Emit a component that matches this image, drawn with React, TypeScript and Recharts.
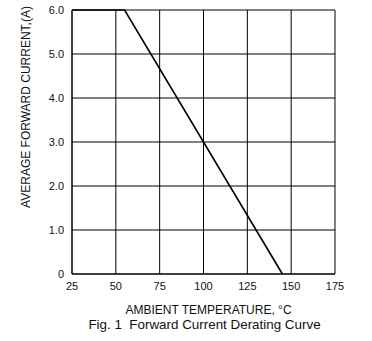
import { CartesianGrid, Label, Line, LineChart, XAxis, YAxis } from "recharts";

// derating curve
const temps = [25, 55, 145];
const currents = [6, 6, 0];

const xTicks = [25, 50, 75, 100, 125, 150, 175];
const yTicks = [0, 1, 2, 3, 4, 5, 6];
const yTickLabels = ["0", "1.0", "2.0", "3.0", "4.0", "5.0", "6.0"];

const FONT = '"Liberation Sans", Arial, sans-serif';
const INK = "#111";

const data = temps.map((t, i) => ({ temp: t, current: currents[i] }));

function XTitle(props: any) {
  const vb = props.viewBox;
  const cx = vb.x + vb.width / 2;
  return (
    <g fontFamily={FONT} fill={INK}>
      <text x={cx + 5} y={314} textAnchor="middle" fontSize={12}>
        AMBIENT TEMPERATURE, °C
      </text>
      <text x={cx + 1} y={329} textAnchor="middle" fontSize={13.4} style={{ whiteSpace: "pre" }}>
        {"Fig. 1  Forward Current Derating Curve"}
      </text>
    </g>
  );
}

export default function App() {
  return (
    <div style={{ position: "absolute", left: 0, top: 0, background: "#fff" }}>
      <LineChart
        width={372}
        height={341}
        data={data}
        margin={{ top: 10, right: 37, left: 0, bottom: 0 }}
        style={{ fontFamily: FONT }}
      >
        <CartesianGrid stroke="#000" strokeWidth={1} />
        <XAxis
          dataKey="temp"
          type="number"
          domain={[25, 175]}
          ticks={xTicks}
          interval={0}
          height={67}
          axisLine={{ stroke: "#000" }}
          tickLine={false}
          tick={{ fill: INK, fontSize: 11 }}
        >
          <Label content={<XTitle />} />
        </XAxis>
        <YAxis
          type="number"
          domain={[0, 6]}
          ticks={yTicks}
          interval={0}
          width={72}
          axisLine={{ stroke: "#000" }}
          tickLine={false}
          tick={{ fill: INK, fontSize: 11 }}
          tickFormatter={(v: number) => yTickLabels[yTicks.indexOf(v)]}
        >
          <Label
            value="AVERAGE FORWARD CURRENT,(A)"
            content={(p: any) => (
              <text
                x={30}
                y={107}
                transform="rotate(-90 30 107)"
                textAnchor="middle"
                fontSize={12}
                fill={INK}
                fontFamily={FONT}
              >
                {p.value}
              </text>
            )}
          />
        </YAxis>
        <Line
          dataKey="current"
          type="linear"
          stroke="#000"
          strokeWidth={1.6}
          dot={false}
          activeDot={false}
          isAnimationActive={false}
        />
      </LineChart>
    </div>
  );
}
